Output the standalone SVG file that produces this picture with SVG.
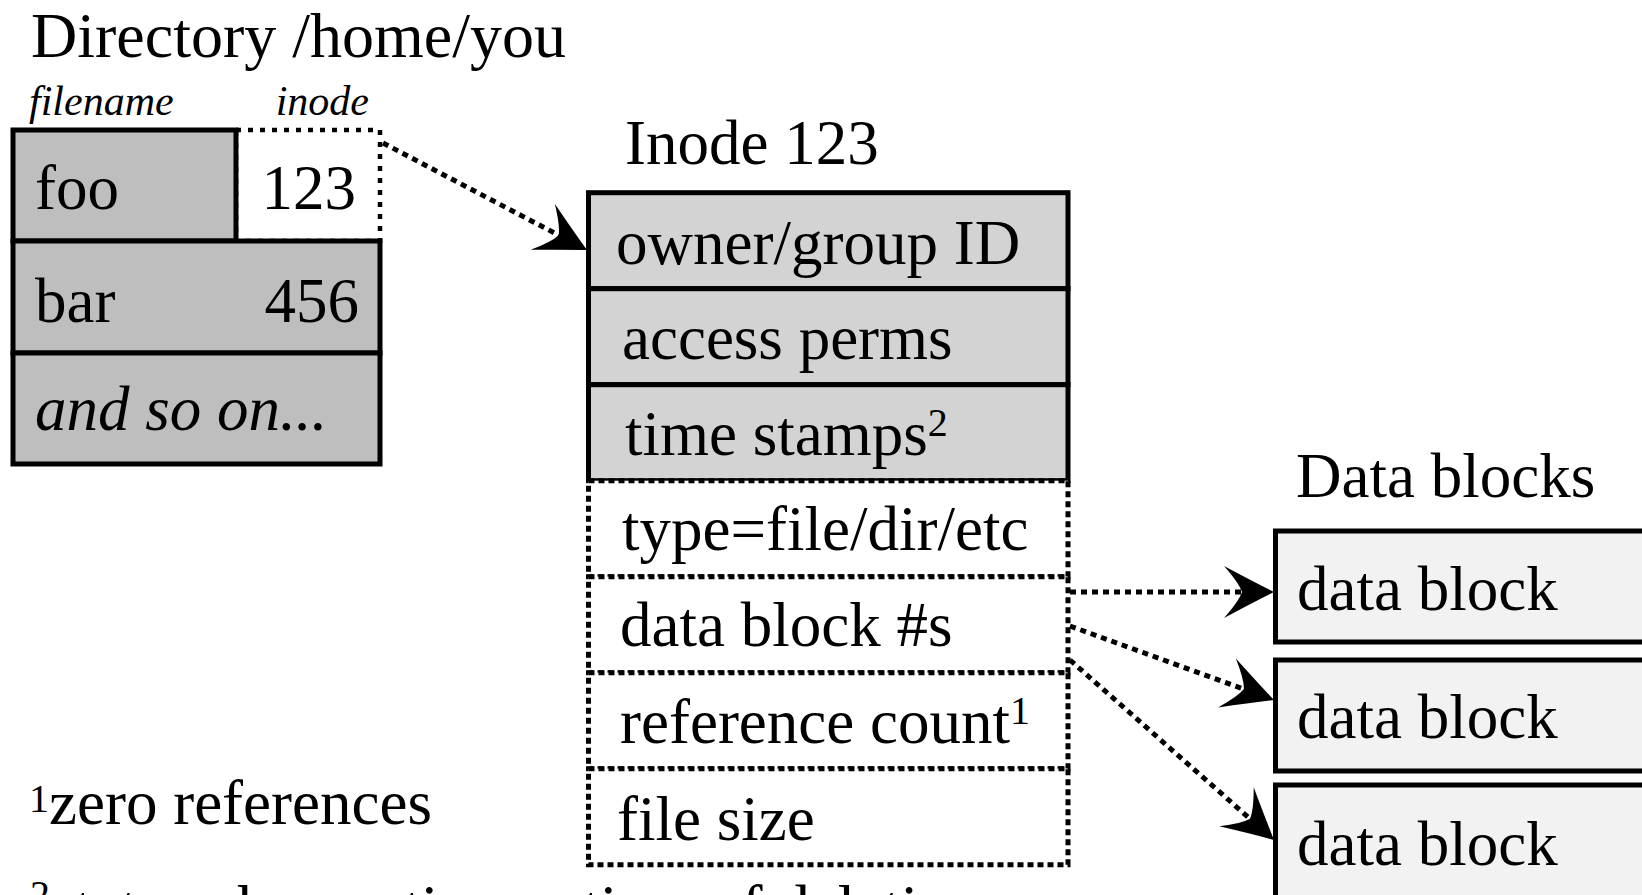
<svg xmlns="http://www.w3.org/2000/svg" width="1642" height="895" viewBox="0 0 1642 895">
<style>
text{font-family:"Liberation Serif","Times New Roman",serif;fill:#000}
.t{font-size:63px}
.h{font-size:64px}
.lbl{font-size:42px;font-style:italic}
.it{font-style:italic}
.sup{font-size:40px}
.dir{fill:#bebebe;stroke:#000;stroke-width:5}
.gray{fill:#d3d3d3;stroke:#000;stroke-width:5}
.dot{fill:#fff;stroke:#000;stroke-width:5;stroke-dasharray:6 4}
.dotc{fill:#fff;stroke:#000;stroke-width:4.5;stroke-dasharray:5 7}
.blk{fill:#f2f2f2;stroke:#000;stroke-width:5}
.conn{fill:none;stroke:#000;stroke-width:5;stroke-dasharray:6 5}
</style>
<defs>
<marker id="ah" markerUnits="userSpaceOnUse" orient="auto" refX="-30" refY="0" markerWidth="60" markerHeight="60" viewBox="-55 -30 60 60" overflow="visible">
<path d="M0,0 Q-22,-11 -50,-26 Q-35,-9 -32,0 Q-35,9 -50,26 Q-22,11 0,0 Z" fill="#000"/>
</marker>
</defs>
<rect width="1642" height="895" fill="#fff"/>

<g id="directory">
<text class="h" x="31" y="57">Directory /home/you</text>
<text class="lbl" x="29" y="115">filename</text>
<text class="lbl" x="369" y="115" text-anchor="end">inode</text>
<rect class="dotc" x="236" y="130" width="144" height="111"/>
<rect class="dir" x="13" y="130" width="223" height="111"/>
<rect class="dir" x="13" y="241" width="367" height="112"/>
<rect class="dir" x="13" y="353" width="367" height="111"/>
<text class="t" x="35" y="209">foo</text>
<text class="t" x="356" y="209" text-anchor="end">123</text>
<text class="t" x="35" y="322">bar</text>
<text class="t" x="359" y="322" text-anchor="end">456</text>
<text class="t it" x="35" y="430">and so on...</text>
</g>

<g id="inode">
<text class="t" x="625" y="164">Inode 123</text>
<rect class="gray" x="588.5" y="192.7" width="479.5" height="96"/>
<rect class="gray" x="588.5" y="288.7" width="479.5" height="96"/>
<rect class="gray" x="588.5" y="384.7" width="479.5" height="96"/>
<rect class="dot" x="588.5" y="480.7" width="479.5" height="96"/>
<rect class="dot" x="588.5" y="576.7" width="479.5" height="96"/>
<rect class="dot" x="588.5" y="672.7" width="479.5" height="96"/>
<rect class="dot" x="588.5" y="768.7" width="479.5" height="96"/>
<text class="t" x="616" y="264">owner/group ID</text>
<text class="t" x="622" y="359">access perms</text>
<text class="t" x="625" y="455">time stamps<tspan class="sup" dy="-19">2</tspan></text>
<text class="t" x="622" y="550">type=file/dir/etc</text>
<text class="t" x="620" y="646">data block #s</text>
<text class="t" x="620" y="743">reference count<tspan class="sup" dy="-19">1</tspan></text>
<text class="t" x="617" y="840">file size</text>
</g>

<g id="datablocks">
<text class="t" x="1296" y="497">Data blocks</text>
<rect class="blk" x="1275.5" y="531" width="420" height="111"/>
<rect class="blk" x="1275.5" y="660" width="420" height="111"/>
<rect class="blk" x="1275.5" y="785" width="420" height="120"/>
<text class="t" x="1297" y="610">data block</text>
<text class="t" x="1297" y="738">data block</text>
<text class="t" x="1297" y="865">data block</text>
</g>

<g id="footnotes">
<text class="t" x="29" y="824"><tspan class="sup" dy="-12">1</tspan><tspan dy="12">zero references</tspan></text>
<text class="t" x="30" y="929"><tspan class="sup" dy="-21">2</tspan><tspan dy="21">status change time = time of deletion</tspan></text>
</g>

<g id="connectors">
<path class="conn" d="M383,143 L560.4,236.1" marker-end="url(#ah)"/>
<path class="conn" d="M1070,592 L1244,592" marker-end="url(#ah)"/>
<path class="conn" d="M1070,626 L1245.8,689.8" marker-end="url(#ah)"/>
<path class="conn" d="M1070,660 L1251.5,820.1" marker-end="url(#ah)"/>
</g>
</svg>
